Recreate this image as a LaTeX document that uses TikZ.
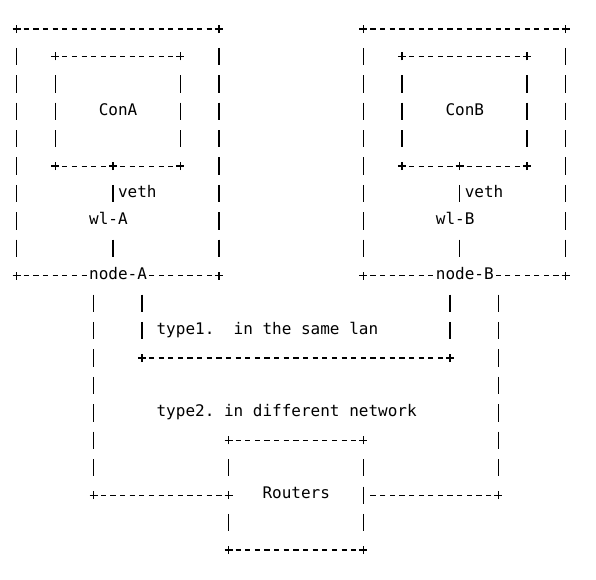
\documentclass[tikz,border=0pt]{standalone}
\usepackage{fontspec}
\newfontfamily\asciimono{DejaVu Sans Mono}
\usepackage{xcolor}
\definecolor{cInk}{HTML}{000000}
\usepackage{tikz}
\tikzset{
  ascii-h/.style={draw=cInk,line width=0.85pt,
    dash pattern=on 3.9pt off 3.3225pt,dash phase=1.95pt},
  ascii-v/.style={draw=cInk,line width=1pt,
    dash pattern=on 13pt off 7.565pt,dash phase=16.7825pt,
    shorten <=10.2825pt,shorten >=10.2825pt},
  node-label/.style={font=\asciimono\fontsize{12pt}{14pt}\selectfont\frenchspacing,
    text=cInk,inner sep=0pt,text height=8.8pt,text depth=3.2pt,anchor=west},
  ascii-plus/.pic={\draw[cInk,line width=0.95pt] (-3pt,0) -- (3pt,0)
    (0,-3pt) -- (0,3pt);},
}
\begin{document}
\begin{tikzpicture}[x=7.2225pt,y=-20.565pt]
  \useasboundingbox[fill=white] (-1.734,-1.058) rectangle (60.155,20.06);
  % node A with container A
  \coordinate (A-tl) at (0,0);     \coordinate (A-tr) at (21,0);
  \coordinate (A-bl) at (0,9);     \coordinate (A-br) at (21,9);
  \coordinate (conA-tl) at (4,1);  \coordinate (conA-tr) at (17,1);
  \coordinate (conA-bl) at (4,5);  \coordinate (conA-br) at (17,5);
  \coordinate (vethA) at (10,5);
  \node[node-label] (conA)  at (8.5,3)  {ConA};
  \node[node-label] (vlabA) at (10.5,6) {veth};
  \node[node-label] (wlA)   at (7.5,7)  {wl-A};
  \node[node-label] (nodeA) at (7.5,9)  {node-A};
  \draw[ascii-h] (A-tl) -- (A-tr);
  \draw[ascii-h] (A-bl) -- (nodeA.west);
  \draw[ascii-h] (A-br) -- (nodeA.east);
  \draw[ascii-v] (A-tl) -- (A-bl);
  \draw[ascii-v] (A-tr) -- (A-br);
  \draw[ascii-h] (conA-tl) -- (conA-tr);
  \draw[ascii-h] (conA-bl) -- (conA-br);
  \draw[ascii-v] (conA-tl) -- (conA-bl);
  \draw[ascii-v] (conA-tr) -- (conA-br);
  \draw[ascii-v] (vethA) -- (vethA |- wlA);
  \draw[ascii-v] (vethA |- wlA) -- (vethA |- nodeA);
  % node B with container B
  \coordinate (B-tl) at (36,0);    \coordinate (B-tr) at (57,0);
  \coordinate (B-bl) at (36,9);    \coordinate (B-br) at (57,9);
  \coordinate (conB-tl) at (40,1); \coordinate (conB-tr) at (53,1);
  \coordinate (conB-bl) at (40,5); \coordinate (conB-br) at (53,5);
  \coordinate (vethB) at (46,5);
  \node[node-label] (conB)  at (44.5,3) {ConB};
  \node[node-label] (vlabB) at (46.5,6) {veth};
  \node[node-label] (wlB)   at (43.5,7) {wl-B};
  \node[node-label] (nodeB) at (43.5,9) {node-B};
  \draw[ascii-h] (B-tl) -- (B-tr);
  \draw[ascii-h] (B-bl) -- (nodeB.west);
  \draw[ascii-h] (B-br) -- (nodeB.east);
  \draw[ascii-v] (B-tl) -- (B-bl);
  \draw[ascii-v] (B-tr) -- (B-br);
  \draw[ascii-h] (conB-tl) -- (conB-tr);
  \draw[ascii-h] (conB-bl) -- (conB-br);
  \draw[ascii-v] (conB-tl) -- (conB-bl);
  \draw[ascii-v] (conB-tr) -- (conB-br);
  \draw[ascii-v] (vethB) -- (vethB |- wlB);
  \draw[ascii-v] (vethB |- wlB) -- (vethB |- nodeB);
  % type1: same lan, type2: through the routers
  \coordinate (lanA) at (13,12);   \coordinate (lanB) at (45,12);
  \coordinate (netA) at (8,17);    \coordinate (netB) at (50,17);
  \coordinate (rt-tl) at (22,15);  \coordinate (rt-tr) at (36,15);
  \coordinate (rt-bl) at (22,19);  \coordinate (rt-br) at (36,19);
  \coordinate (rt-w) at (22,17);   \coordinate (rt-e) at (36,17);
  \node[node-label] (type1)   at (14.5,11) {type1.~~in the same lan};
  \node[node-label] (type2)   at (14.5,14) {type2. in different network};
  \node[node-label] (routers) at (25.5,17) {Routers};
  \draw[ascii-v] (nodeA.center -| netA) -- (netA);
  \draw[ascii-v] (nodeA.center -| lanA) -- (lanA);
  \draw[ascii-v] (nodeB.center -| lanB) -- (lanB);
  \draw[ascii-v] (nodeB.center -| netB) -- (netB);
  \draw[ascii-h] (lanA) -- (lanB);
  \draw[ascii-h] (netA) -- (rt-w);
  \draw[ascii-h,shorten >=3.61pt] (netB) -- (rt-e);
  \draw[ascii-h] (rt-tl) -- (rt-tr);
  \draw[ascii-h] (rt-bl) -- (rt-br);
  \draw[ascii-v] (rt-tl) -- (rt-w);
  \draw[ascii-v] (rt-w) -- (rt-bl);
  \draw[ascii-v] (rt-tr) -- (rt-br);
  % the + corners
  \foreach \c in {A-tl,A-tr,A-bl,A-br,conA-tl,conA-tr,conA-bl,conA-br,vethA,
      B-tl,B-tr,B-bl,B-br,conB-tl,conB-tr,conB-bl,conB-br,vethB,
      lanA,lanB,netA,netB,rt-tl,rt-tr,rt-bl,rt-br,rt-w}
    \pic at (\c) {ascii-plus};
\end{tikzpicture}
\end{document}
